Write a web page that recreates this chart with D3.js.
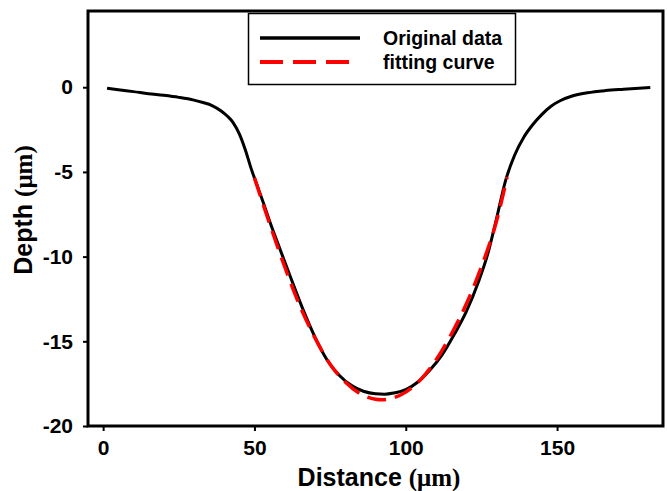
<!DOCTYPE html>
<html>
<head>
<meta charset="utf-8">
<script src="https://cdn.jsdelivr.net/npm/d3@7"></script>
<style>
  body { margin: 0; background: #fff; }
  svg text { font-family: "Liberation Sans", Arial, sans-serif; font-weight: bold; fill: #000; }
</style>
</head>
<body>
<svg width="667" height="491"></svg>
<script>
// original profile
var dataX = [1.3, 5, 10, 15, 20, 25, 30, 33, 36, 39, 41, 43, 45, 47, 49, 51, 53, 55, 58, 62, 66, 70, 74, 78, 82, 86, 90, 93, 96, 100, 104, 108, 112, 116, 120, 124, 127, 130, 133, 136, 139, 142, 145, 148, 151, 155, 160, 166, 172, 177, 180.8];
var dataY = [-0.06, -0.15, -0.26, -0.38, -0.48, -0.6, -0.76, -0.9, -1.08, -1.4, -1.7, -2.1, -2.75, -3.7, -4.85, -5.85, -6.85, -7.9, -9.35, -11.25, -13.1, -14.75, -16.1, -17.0, -17.6, -17.95, -18.1, -18.12, -18.05, -17.85, -17.4, -16.7, -15.8, -14.6, -13.25, -11.5, -9.9, -7.75, -5.5, -4.0, -2.95, -2.2, -1.6, -1.12, -0.8, -0.52, -0.33, -0.2, -0.12, -0.06, -0.02];
// fitting curve
var fitX = [50, 55, 60, 65, 70, 75, 80, 85, 90, 92, 95, 100, 105, 110, 115, 120, 125, 130, 133.5];
var fitY = [-5.35, -8.05, -10.6, -12.9, -14.8, -16.35, -17.4, -18.1, -18.42, -18.45, -18.38, -18.0, -17.25, -16.1, -14.6, -12.8, -10.6, -7.9, -5.3];
var xTicks = [0, 50, 100, 150];
var yTicks = [-20, -15, -10, -5, 0];

var svg = d3.select("svg");
var plotL = 88, plotR = 663, plotT = 11, plotB = 426;

var x = d3.scaleLinear().domain([-5, 185]).range([plotL, plotR]);
var y = d3.scaleLinear().domain([-20, 4.5]).range([plotB, plotT]);

var line = d3.line()
  .x(function(d) { return x(d[0]); })
  .y(function(d) { return y(d[1]); })
  .curve(d3.curveMonotoneX);

var orig = d3.zip(dataX, dataY);
var fit = d3.zip(fitX, fitY);

svg.append("path")
  .datum(orig)
  .attr("d", line)
  .attr("fill", "none")
  .attr("stroke", "#000")
  .attr("stroke-width", 3);

svg.append("path")
  .datum(fit)
  .attr("d", line)
  .attr("fill", "none")
  .attr("stroke", "#ff0000")
  .attr("stroke-width", 3.5)
  .attr("stroke-dasharray", "19,9");

// frame
svg.append("rect")
  .attr("x", plotL).attr("y", plotT)
  .attr("width", plotR - plotL).attr("height", plotB - plotT)
  .attr("fill", "none")
  .attr("stroke", "#000")
  .attr("stroke-width", 3);

// plain hyphen for negatives, like the original figure
var fmt = function(d) { return String(d); };

var xAxis = svg.append("g")
  .attr("transform", "translate(0," + plotB + ")")
  .call(d3.axisBottom(x).tickValues(xTicks).tickFormat(fmt).tickSize(5).tickPadding(9));
var yAxis = svg.append("g")
  .attr("transform", "translate(" + plotL + ",0)")
  .call(d3.axisLeft(y).tickValues(yTicks).tickFormat(fmt).tickSize(5).tickPadding(10));

[xAxis, yAxis].forEach(function(g) {
  g.select(".domain").remove();
  g.selectAll(".tick line").attr("stroke", "#000").attr("stroke-width", 2);
  g.selectAll(".tick text")
    .style("font-family", "'Liberation Sans', Arial, sans-serif")
    .style("font-weight", "bold")
    .style("font-size", "21px")
    .attr("fill", "#000");
});

// axis titles
var xt = svg.append("text")
  .attr("x", 379).attr("y", 486)
  .attr("text-anchor", "middle")
  .style("font-size", "25px");
xt.append("tspan").text("Distance ");
xt.append("tspan").style("font-family", "'Liberation Serif', serif").text("(\u03bcm)");

var yt = svg.append("text")
  .attr("transform", "translate(32,210) rotate(-90)")
  .attr("text-anchor", "middle")
  .style("font-size", "25px");
yt.append("tspan").text("Depth ");
yt.append("tspan").style("font-family", "'Liberation Serif', serif").text("(\u03bcm)");

// legend
var legend = svg.append("g");
legend.append("rect")
  .attr("x", 248.5).attr("y", 13.5)
  .attr("width", 267).attr("height", 71)
  .attr("fill", "#fff")
  .attr("stroke", "#000")
  .attr("stroke-width", 1.5);

var items = [
  { label: "Original data", color: "#000", dash: null, len: 100, w: 3.5 },
  { label: "fitting curve", color: "#ff0000", dash: "23,10", len: 89, w: 4 }
];
items.forEach(function(it, i) {
  var yy = 38 + i * 24;
  legend.append("line")
    .attr("x1", 260).attr("x2", 260 + it.len)
    .attr("y1", yy).attr("y2", yy)
    .attr("stroke", it.color)
    .attr("stroke-width", it.w)
    .attr("stroke-dasharray", it.dash);
  legend.append("text")
    .attr("x", 383).attr("y", yy + 6.5)
    .style("font-size", "19.5px")
    .text(it.label);
});
</script>
</body>
</html>
